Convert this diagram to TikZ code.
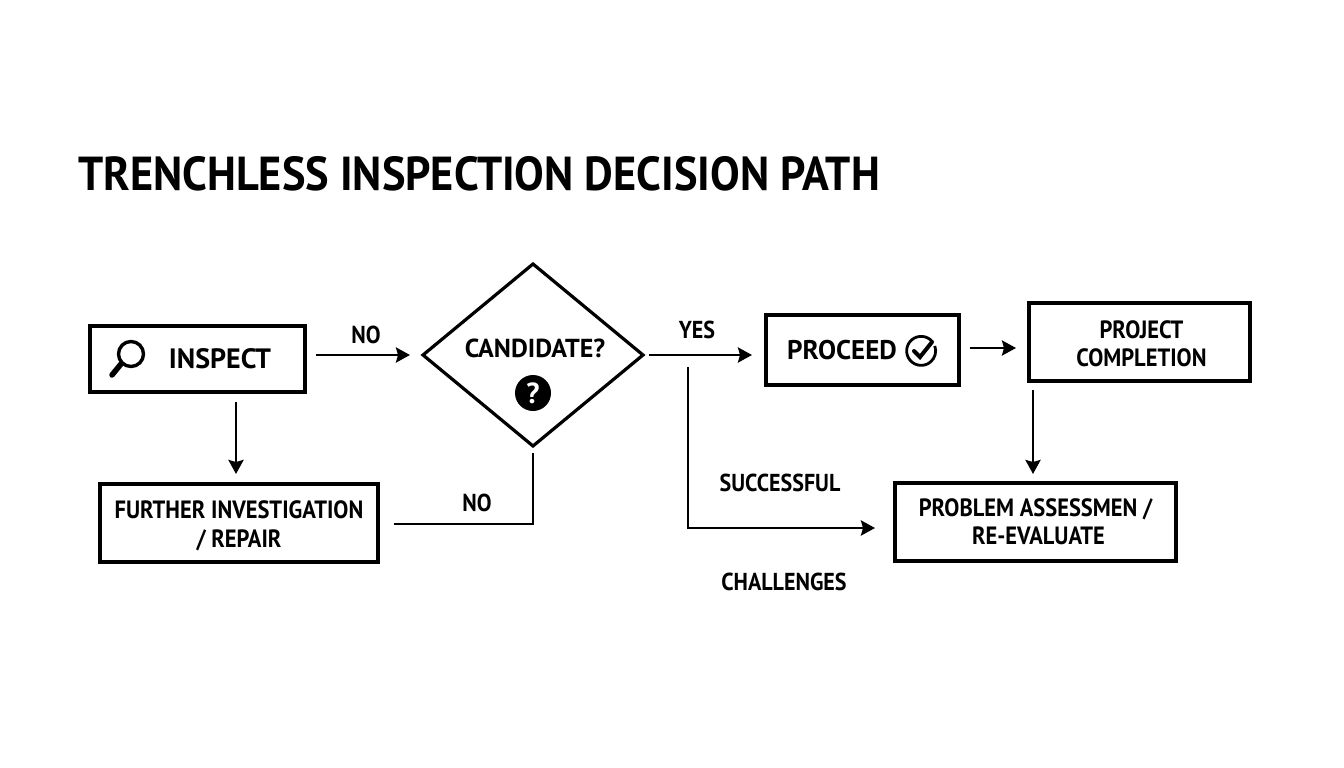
\documentclass[tikz,border=0pt]{standalone}
\usepackage{fontspec}
\setmainfont{PT Sans}
\newfontfamily\narrowfont[FakeStretch=0.9]{PT Sans}
\newfontfamily\titlefont[FakeStretch=0.93]{PT Sans}
\usetikzlibrary{arrows.meta,positioning,shapes.geometric}

\begin{document}
\begin{tikzpicture}[
  x=1pt,y=-1pt,
  box/.style={draw,line width=3.2pt,outer sep=0pt,inner sep=0pt,align=center,font=\narrowfont\fontsize{25}{28}\selectfont\bfseries},
  lbl/.style={inner sep=0pt,font=\narrowfont\fontsize{24.5}{26}\selectfont\bfseries},
  arr/.style={-{Stealth[length=14pt,width=15pt,inset=2pt]},line width=2.8pt},
  icon/.style={line width=3.4pt}
]
\useasboundingbox (0,0) rectangle (1344,768);
\node[inner sep=0pt,anchor=west,font=\titlefont\fontsize{47.7}{50}\selectfont\bfseries] (title) at (78,174) {TRENCHLESS INSPECTION DECISION PATH};

% boxes
\node[box,font=\fontsize{28}{30}\selectfont\bfseries,minimum width=215pt,minimum height=66pt] (inspect) at (197.5,359) {\hspace*{45pt}INSPECT};
\node[box,diamond,aspect=1.2,minimum width=220pt,minimum height=182pt,right=118pt of inspect,yshift=4pt] (candidate) {};
\node[box,font=\fontsize{27}{30}\selectfont\bfseries,minimum width=193pt,minimum height=70pt,right=123pt of candidate,yshift=5pt] (proceed) {PROCEED\hspace*{41pt}};
\node[box,minimum width=221pt,minimum height=78pt,right=70pt of proceed,yshift=8pt] (project) {\rule{0pt}{21pt}\hspace*{4pt}PROJECT\\\hspace*{4pt}COMPLETION};
\node[box,minimum width=278pt,minimum height=78pt,below=92pt of inspect,xshift=41.5pt] (further) {\rule{0pt}{24pt}FURTHER INVESTIGATION\\[1pt]/ REPAIR};
\node[box,minimum width=281pt,minimum height=78pt,below=102pt of project,xshift=-104pt] (problem) {PROBLEM ASSESSMEN /\\\hspace*{6pt}RE-EVALUATE};

% diamond text and icons
\node[inner sep=0pt,font=\fontsize{26}{30}\selectfont\bfseries] (candtext) at (535,348) {CANDIDATE?};
\node[circle,fill=black,text=white,inner sep=0pt,minimum size=36pt,font=\fontsize{29}{30}\selectfont\bfseries] (qmark) at (533,393) {?};
\node[circle,draw,icon,inner sep=0pt,minimum size=25pt] (lens) at (131,354) {};
\coordinate (handle) at (112,375);
\draw[line width=5.5pt,line cap=round] (lens.225) -- (handle);
\node[circle,inner sep=0pt,minimum size=29pt] (okmark) at (921,351) {};
\draw[line width=2.8pt] (okmark.40) arc (40:380:14.5pt);
\draw[line width=4pt,line cap=round] (914,351) -- (920,357) -- (932,342);

% connectors
\coordinate (branch) at (688,367);
\draw[arr,shorten <=11pt,shorten >=13pt] (inspect.east |- candidate.west) -- (candidate.west);
\draw[arr,shorten <=10pt,shorten >=10pt] (inspect.south -| 236,0) -- (further.north -| 236,0);
\draw[line width=2.8pt,shorten <=7pt] (candidate.south) |- (394,524) coordinate (furtherend);
\draw[arr,shorten <=6pt,shorten >=14pt] (candidate.east) -- (proceed.west |- candidate.east);
\draw[arr,shorten <=11pt,shorten >=13pt] (proceed.east |- 0,348) -- (project.west |- 0,348);
\draw[arr,shorten <=9pt,shorten >=9pt] (project.south -| 1033,0) -- (problem.north -| 1033,0);
\draw[arr,shorten >=20pt] (branch) |- (problem.west |- 0,528);

% branch labels
\node[lbl] (no1) at (366,335) {NO};
\node[lbl] (no2) at (477,503) {NO};
\node[lbl] (yes) at (697,330) {YES};
\node[lbl] (success) at (780,483) {SUCCESSFUL};
\node[lbl] (challenge) at (784,582) {CHALLENGES};
\end{tikzpicture}
\end{document}
